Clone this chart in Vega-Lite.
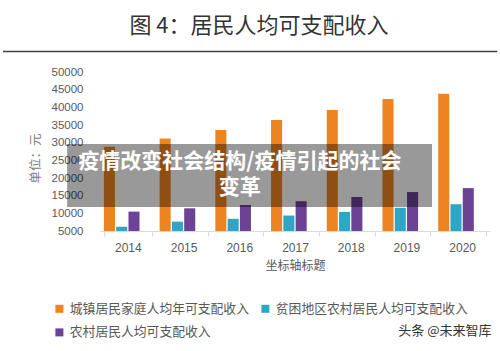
{
  "$schema": "https://vega.github.io/schema/vega-lite/v6.json",
  "width": 390,
  "height": 159,
  "autosize": "none",
  "padding": {"left": 100, "top": 72, "right": 10, "bottom": 120},
  "background": "white",
  "title": {
    "text": "图 4：居民人均可支配收入",
    "font": "Noto Sans CJK SC",
    "fontSize": 22,
    "fontWeight": "normal",
    "color": "#333333",
    "anchor": "middle",
    "frame": "group",
    "dx": -36,
    "offset": 13
  },
  "datasets": {
    "income": [
      {"year": "2014", "series": "城镇居民家庭人均年可支配收入", "value": 28844},
      {"year": "2015", "series": "城镇居民家庭人均年可支配收入", "value": 31195},
      {"year": "2016", "series": "城镇居民家庭人均年可支配收入", "value": 33616},
      {"year": "2017", "series": "城镇居民家庭人均年可支配收入", "value": 36396},
      {"year": "2018", "series": "城镇居民家庭人均年可支配收入", "value": 39251},
      {"year": "2019", "series": "城镇居民家庭人均年可支配收入", "value": 42359},
      {"year": "2020", "series": "城镇居民家庭人均年可支配收入", "value": 43834},
      {"year": "2014", "series": "贫困地区农村居民人均可支配收入", "value": 6200},
      {"year": "2015", "series": "贫困地区农村居民人均可支配收入", "value": 7653},
      {"year": "2016", "series": "贫困地区农村居民人均可支配收入", "value": 8452},
      {"year": "2017", "series": "贫困地区农村居民人均可支配收入", "value": 9377},
      {"year": "2018", "series": "贫困地区农村居民人均可支配收入", "value": 10371},
      {"year": "2019", "series": "贫困地区农村居民人均可支配收入", "value": 11567},
      {"year": "2020", "series": "贫困地区农村居民人均可支配收入", "value": 12588},
      {"year": "2014", "series": "农村居民人均可支配收入", "value": 10489},
      {"year": "2015", "series": "农村居民人均可支配收入", "value": 11422},
      {"year": "2016", "series": "农村居民人均可支配收入", "value": 12363},
      {"year": "2017", "series": "农村居民人均可支配收入", "value": 13432},
      {"year": "2018", "series": "农村居民人均可支配收入", "value": 14617},
      {"year": "2019", "series": "农村居民人均可支配收入", "value": 16021},
      {"year": "2020", "series": "农村居民人均可支配收入", "value": 17131}
    ]
  },
  "layer": [
    {
      "data": {"name": "income"},
      "mark": {"type": "bar"},
      "encoding": {
        "x": {
          "field": "year",
          "type": "nominal",
          "scale": {"paddingInner": 0.14, "paddingOuter": 0.07},
          "axis": {
            "title": "坐标轴标题",
            "labelAngle": 0,
            "tickBand": "extent",
            "domainColor": "#D9D9D9",
            "tickColor": "#D9D9D9",
            "tickSize": 5,
            "labelPadding": 6,
            "labelColor": "#595959",
            "labelFontSize": 12,
            "labelFont": "Liberation Sans",
            "titleFont": "Noto Sans CJK SC",
            "titleFontSize": 12,
            "titleFontWeight": "normal",
            "titleColor": "#595959",
            "titlePadding": 7
          }
        },
        "xOffset": {
          "field": "series",
          "type": "nominal",
          "scale": {
            "domain": ["城镇居民家庭人均年可支配收入", "贫困地区农村居民人均可支配收入", "农村居民人均可支配收入", "其他"],
            "paddingInner": 0.1,
            "paddingOuter": 0
          }
        },
        "y": {
          "field": "value",
          "type": "quantitative",
          "scale": {"domain": [5000, 50000], "zero": false, "nice": false},
          "axis": {
            "title": "单位：元",
            "values": [5000, 10000, 15000, 20000, 25000, 30000, 35000, 40000, 45000, 50000],
            "format": "d",
            "grid": false,
            "domain": false,
            "ticks": false,
            "labelPadding": 17,
            "labelColor": "#595959",
            "labelFontSize": 11.5,
            "labelFont": "Liberation Sans",
            "titleFont": "Noto Sans CJK SC",
            "titleFontSize": 12.5,
            "titleFontWeight": "normal",
            "titleColor": "#808080",
            "titlePadding": 9,
            "titleY": 86
          }
        },
        "y2": {"datum": 5000},
        "color": {
          "field": "series",
          "type": "nominal",
          "scale": {
            "domain": ["城镇居民家庭人均年可支配收入", "农村居民人均可支配收入", "贫困地区农村居民人均可支配收入"],
            "range": ["#EE8420", "#6B4294", "#2FA6C6"]
          },
          "legend": {
            "orient": "none",
            "legendX": -47,
            "legendY": 230,
            "columns": 2,
            "title": null,
            "symbolType": "square",
            "symbolSize": 64,
            "symbolStrokeWidth": 0,
            "labelFont": "Noto Sans CJK SC",
            "labelFontSize": 12.8,
            "labelColor": "#595959",
            "columnPadding": 10,
            "rowPadding": 10,
            "labelLimit": 400
          }
        }
      }
    },
    {
      "layer": [
        {
          "data": {"values": [{"part": "banner"}]},
          "mark": {"type": "rect", "fill": "black", "opacity": 0.4},
          "encoding": {
            "x": {"datum": 2012.91, "type": "quantitative", "scale": {"domain": [2013.5, 2020.5], "nice": false, "zero": false}, "axis": null},
            "x2": {"datum": 2019.46},
            "y": {"datum": 29620, "type": "quantitative", "axis": null},
            "y2": {"datum": 11790}
          }
        },
        {
          "data": {"values": [{"label": "疫情改变社会结构/疫情引起的社会\n变革"}]},
          "mark": {"type": "text", "color": "white", "font": "Noto Sans CJK SC", "fontWeight": "bold", "fontSize": 21, "lineBreak": "\n", "lineHeight": 26, "align": "center", "baseline": "middle"},
          "encoding": {
            "x": {"datum": 2016.01, "type": "quantitative", "scale": {"domain": [2013.5, 2020.5], "nice": false, "zero": false}, "axis": null},
            "y": {"datum": 24600, "type": "quantitative", "axis": null},
            "text": {"field": "label"}
          }
        },
        {
          "data": {"values": [{"part": "titleline"}]},
          "mark": {"type": "rule", "color": "#404040", "strokeWidth": 1.5},
          "encoding": {
            "x": {"datum": 2011.76, "type": "quantitative", "scale": {"domain": [2013.5, 2020.5], "nice": false, "zero": false}, "axis": null},
            "x2": {"datum": 2020.63},
            "y": {"datum": 55800, "type": "quantitative", "axis": null}
          }
        },
        {
          "data": {"values": [{"label": "头条 @未来智库"}]},
          "mark": {"type": "text", "color": "#333333", "font": "Noto Sans CJK SC", "fontSize": 13, "align": "center", "baseline": "middle"},
          "encoding": {
            "x": {"datum": 2019.69, "type": "quantitative", "scale": {"domain": [2013.5, 2020.5], "nice": false, "zero": false}, "axis": null},
            "y": {"datum": -23300, "type": "quantitative", "axis": null},
            "text": {"field": "label"}
          }
        }
      ]
    }
  ],
  "resolve": {"scale": {"x": "independent"}, "axis": {"x": "independent", "y": "independent"}},
  "config": {"view": {"stroke": null}}
}
